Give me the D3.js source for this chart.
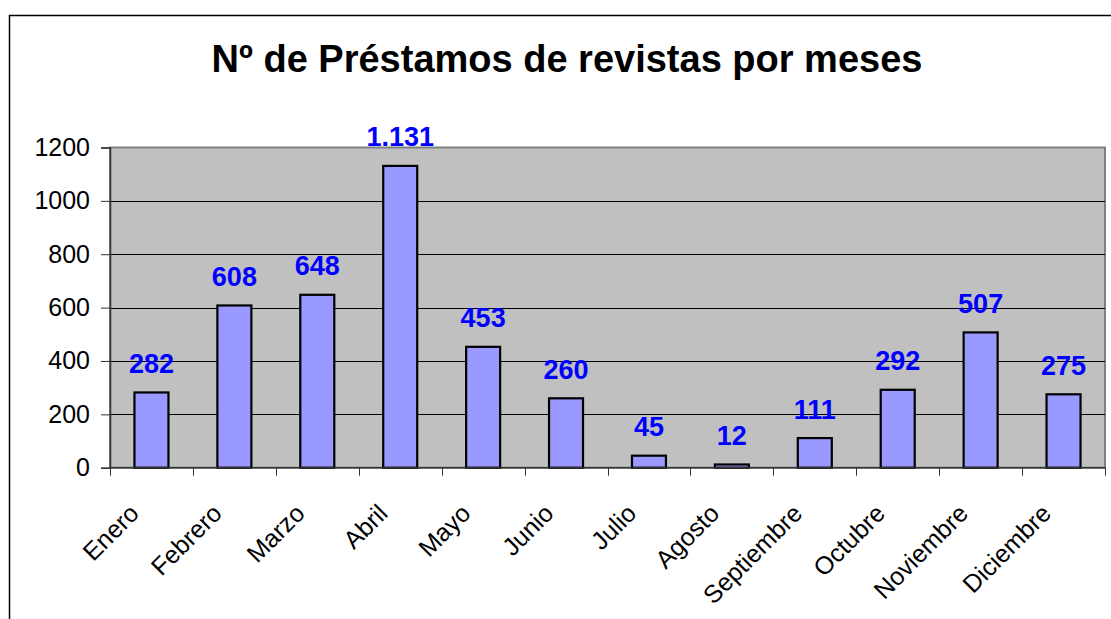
<!DOCTYPE html>
<html>
<head>
<meta charset="utf-8">
<script src="https://cdn.jsdelivr.net/npm/d3@7"></script>
<style>
  body { margin: 0; background: #fff; }
  svg { display: block; font-family: Arial, "Liberation Sans", sans-serif; }
</style>
</head>
<body>
<div id="chart"></div>
<script>
// data
const months = ["Enero", "Febrero", "Marzo", "Abril", "Mayo", "Junio", "Julio",
  "Agosto", "Septiembre", "Octubre", "Noviembre", "Diciembre"];
const loans = [282, 608, 648, 1131, 453, 260, 45, 12, 111, 292, 507, 275];
const yTicks = [0, 200, 400, 600, 800, 1000, 1200];
const title = "Nº de Préstamos de revistas por meses";

const W = 1111, H = 619;
//plot area
const plot = { left: 110, right: 1105, top: 147.5, bottom: 467.7 };

const svg = d3.select("#chart").append("svg")
  .attr("width", W)
  .attr("height", H);

// outer chart frame (runs off the right and bottom of the picture)
svg.append("rect")
  .attr("x", 9.5).attr("y", 15.5)
  .attr("width", W + 20).attr("height", H + 20)
  .attr("fill", "#fff")
  .attr("stroke", "#000")
  .attr("stroke-width", 1.5);

svg.append("text")
  .attr("x", 567).attr("y", 72)
  .attr("text-anchor", "middle")
  .style("font-size", "38px")
  .style("font-weight", "bold")
  .text(title);

const x = d3.scaleBand()
  .domain(months)
  .range([plot.left, plot.right])
  .paddingInner(0.59)
  .paddingOuter(0.295);

const y = d3.scaleLinear()
  .domain([0, 1200])
  .range([plot.bottom, plot.top]);

const es = d3.formatLocale({ decimal: ",", thousands: ".", grouping: [3], currency: ["", " €"] });
const fmt = es.format(",d");

// plot background
svg.append("rect")
  .attr("x", plot.left).attr("y", plot.top)
  .attr("width", plot.right - plot.left)
  .attr("height", plot.bottom - plot.top)
  .attr("fill", "#c0c0c0")
  .attr("stroke", "#808080")
  .attr("stroke-width", 2);

// gridlines
svg.append("g")
  .selectAll("line")
  .data(yTicks.filter(d => d > 0 && d < 1200))
  .join("line")
  .attr("x1", plot.left).attr("x2", plot.right)
  .attr("y1", d => Math.round(y(d)) + 0.5).attr("y2", d => Math.round(y(d)) + 0.5)
  .attr("stroke", "#000")
  .attr("stroke-width", 1);

// bars
svg.append("g")
  .selectAll("rect")
  .data(loans)
  .join("rect")
  .attr("x", (d, i) => x(months[i]))
  .attr("y", d => y(d))
  .attr("width", x.bandwidth())
  .attr("height", d => y(0) - y(d))
  .attr("fill", "#9999ff")
  .attr("stroke", "#000")
  .attr("stroke-width", 2.2);

// value labels
svg.append("g")
  .selectAll("text")
  .data(loans)
  .join("text")
  .attr("x", (d, i) => x(months[i]) + x.bandwidth() / 2)
  .attr("y", d => y(d) - 19.5)
  .attr("text-anchor", "middle")
  .attr("fill", "#0000ff")
  .style("font-size", "27px")
  .style("font-weight", "bold")
  .text(d => fmt(d));

// y axis
const yAxis = svg.append("g")
  .attr("transform", `translate(${plot.left},0)`)
  .call(d3.axisLeft(y).tickValues(yTicks).tickSize(9).tickPadding(11).tickFormat(d3.format("d")));
yAxis.select(".domain").attr("stroke", "#333").attr("stroke-width", 1.5);
yAxis.selectAll(".tick line").attr("stroke", "#333");
yAxis.selectAll(".tick text")
  .attr("fill", "#000")
  .style("font-size", "25px")
  .style("font-family", "Arial, 'Liberation Sans', sans-serif");

// x axis line and ticks at category boundaries
const bounds = d3.range(months.length + 1).map(i => plot.left + i * x.step());
svg.append("line")
  .attr("x1", plot.left).attr("x2", plot.right)
  .attr("y1", plot.bottom).attr("y2", plot.bottom)
  .attr("stroke", "#333").attr("stroke-width", 1.5);
svg.append("g")
  .selectAll("line")
  .data(bounds)
  .join("line")
  .attr("x1", d => Math.round(d) + 0.5).attr("x2", d => Math.round(d) + 0.5)
  .attr("y1", plot.bottom).attr("y2", plot.bottom + 8)
  .attr("stroke", "#333");

// rotated month labels
svg.append("g")
  .selectAll("text")
  .data(months)
  .join("text")
  .attr("transform", d => `translate(${x(d) + x.bandwidth() / 2 - 11},515) rotate(-45)`)
  .attr("text-anchor", "end")
  .style("font-size", "25px")
  .text(d => d);
</script>
</body>
</html>
